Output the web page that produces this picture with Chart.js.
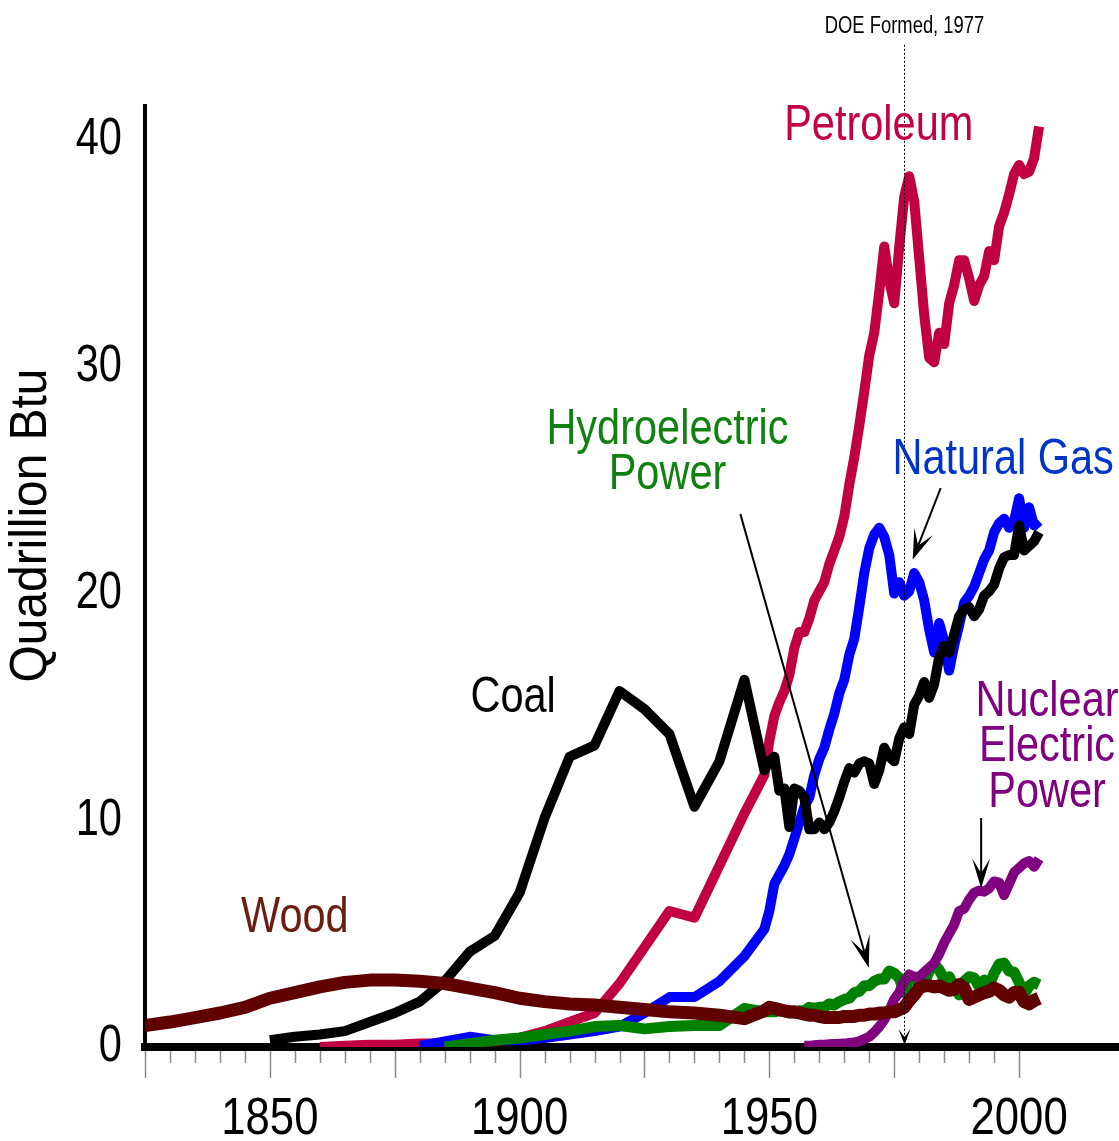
<!DOCTYPE html>
<html>
<head>
<meta charset="utf-8">
<script src="https://cdn.jsdelivr.net/npm/chart.js@4.4.1/dist/chart.umd.min.js"></script>
<style>
  body { margin: 0; background: #fff; }
  #wrap { width: 1119px; height: 1141px; }
</style>
</head>
<body>
<div id="wrap"><canvas id="chartEnergia" width="1119" height="1141"></canvas></div>
<script>
// Consumo de energia por fuente, 1825-2004 (quadrillion Btu)

const yTicks = [0, 10, 20, 30, 40];
const xLabelYears = [1850, 1900, 1950, 2000];

const annual = [];
for (let a = 1949; a <= 2004; a++) annual.push(a);

const woodYears = [1825, 1830, 1835, 1840, 1845, 1850, 1855, 1860, 1865, 1870, 1875, 1880, 1885, 1890, 1895,
  1900, 1905, 1910, 1915, 1920, 1925, 1930, 1935, 1940, 1945, ...annual];
const woodValues = [0.95, 1.1, 1.3, 1.5, 1.75, 2.15, 2.4, 2.65, 2.85, 2.95, 2.95, 2.9, 2.8, 2.6, 2.4,
  2.15, 2.0, 1.9, 1.85, 1.75, 1.65, 1.55, 1.5, 1.4, 1.25,
  1.6, 1.75, 1.7, 1.65, 1.6, 1.55, 1.55, 1.5, 1.45, 1.4, 1.4, 1.35, 1.3, 1.3, 1.3, 1.3, 1.35, 1.35, 1.35, 1.4,
  1.4, 1.45, 1.45, 1.5, 1.5, 1.55, 1.55, 1.65, 1.75, 2.05, 2.3, 2.6, 2.7, 2.7, 2.65, 2.7, 2.6, 2.5, 2.55, 2.75,
  2.6, 2.1, 2.2, 2.3, 2.4, 2.45, 2.6, 2.5, 2.3, 2.2, 2.4, 2.4, 2.0, 1.9, 2.05, 2.15];

const coalYears = [1850, 1855, 1860, 1865, 1870, 1875, 1880, 1885, 1890, 1895, 1900, 1905, 1910, 1915, 1920,
  1925, 1930, 1935, 1940, 1945, ...annual];
const coalValues = [0.3, 0.45, 0.55, 0.7, 1.1, 1.5, 2.0, 2.9, 4.2, 4.9, 6.8, 10.1, 12.8, 13.3, 15.7,
  14.9, 13.8, 10.6, 12.6, 16.2,
  12.2, 12.6, 12.8, 11.3, 11.4, 9.7, 11.4, 11.3, 11.0, 9.6, 9.6, 9.9, 9.6, 9.9, 10.4, 11.0, 11.7, 12.3, 12.1,
  12.5, 12.6, 12.5, 11.6, 12.2, 13.2, 12.8, 12.6, 13.6, 14.1, 13.8, 15.1, 15.5, 16.1, 15.4, 16.0, 17.2, 17.7,
  17.4, 18.2, 19.0, 19.3, 19.4, 19.0, 19.3, 19.9, 20.1, 20.4, 21.1, 21.6, 21.7, 21.7, 23.0, 21.9, 22.1, 22.3, 22.7];

const petroleumYears = [1860, 1865, 1870, 1875, 1880, 1885, 1890, 1895, 1900, 1905, 1910, 1915, 1920, 1925,
  1930, 1935, 1940, 1945, ...annual];
const petroleumValues = [0.0, 0.05, 0.1, 0.1, 0.15, 0.15, 0.2, 0.25, 0.4, 0.7, 1.1, 1.5, 2.8, 4.4,
  6.0, 5.7, 8.0, 10.3,
  12.0, 13.5, 14.6, 15.2, 15.7, 16.4, 17.6, 18.3, 18.3, 18.9, 19.7, 20.1, 20.5, 21.3, 21.9, 22.5, 23.4, 24.8,
  26.0, 27.4, 28.9, 30.5, 31.5, 33.3, 35.3, 33.8, 32.8, 35.3, 37.5, 38.4, 37.3, 34.8, 32.3, 30.4, 30.2, 31.5,
  31.0, 32.8, 33.6, 34.7, 34.7, 33.9, 32.9, 33.6, 34.0, 35.1, 34.7, 36.2, 36.8, 37.6, 38.5, 38.9, 38.5, 38.6,
  39.2, 40.6];

const gasYears = [1880, 1885, 1890, 1895, 1900, 1905, 1910, 1915, 1920, 1925, 1930, 1935, 1940, 1945, ...annual];
const gasValues = [0.05, 0.25, 0.45, 0.3, 0.3, 0.4, 0.55, 0.7, 0.9, 1.5, 2.2, 2.2, 2.9, 4.0,
  5.2, 6.0, 7.2, 7.6, 8.0, 8.5, 9.2, 9.9, 10.6, 11.0, 12.0, 12.7, 13.2, 14.0, 14.7, 15.6, 16.2, 17.3, 18.0,
  19.4, 20.9, 22.0, 22.6, 22.9, 22.5, 21.7, 20.0, 20.5, 19.9, 20.1, 20.9, 20.5, 19.7, 18.4, 17.4, 18.7, 17.9,
  16.6, 17.7, 18.6, 19.6, 19.9, 20.3, 20.9, 21.5, 21.9, 22.7, 23.1, 23.3, 22.9, 23.2, 24.2, 22.9, 23.8, 23.0, 23.2];

const hydroYears = [1885, 1890, 1895, 1900, 1905, 1910, 1915, 1920, 1925, 1930, 1935, 1940, 1945, ...annual];
const hydroValues = [0.0, 0.15, 0.3, 0.4, 0.55, 0.7, 0.9, 0.95, 0.8, 0.9, 0.95, 0.95, 1.7,
  1.55, 1.55, 1.55, 1.6, 1.55, 1.5, 1.5, 1.6, 1.6, 1.75, 1.7, 1.75, 1.75, 1.9, 1.85, 2.0, 2.1, 2.15, 2.4, 2.45,
  2.7, 2.7, 2.9, 3.0, 3.0, 3.35, 3.25, 3.05, 2.4, 3.0, 2.95, 2.95, 2.8, 3.35, 3.65, 3.4, 3.0, 3.1, 2.65, 2.3,
  2.9, 3.1, 3.05, 2.65, 2.95, 2.7, 3.25, 3.65, 3.7, 3.35, 3.3, 2.85, 2.3, 2.7, 2.85, 2.75];

const nuclearYears = annual.filter(a => a >= 1957);
const nuclearValues = [0.05, 0.05, 0.08, 0.1, 0.1, 0.12, 0.13, 0.14, 0.15, 0.18, 0.2, 0.25, 0.35, 0.45, 0.65,
  0.9, 1.2, 1.6, 2.1, 2.4, 2.9, 3.2, 3.1, 3.1, 3.3, 3.5, 3.7, 4.1, 4.6, 5.0, 5.4, 6.0, 6.1, 6.5, 6.8, 6.9,
  6.85, 7.0, 7.3, 7.25, 6.7, 7.2, 7.7, 7.9, 8.1, 8.2, 7.95, 8.3];

// no hay Arial Narrow: se comprime Liberation Sans en horizontal
const fuente = '"Liberation Sans", Arial, sans-serif';

function puntos(years, values) {
    return years.map((yr, i) => ({ x: yr, y: values[i] }));
}

function serie(label, years, values, color, width) {
    return {
        label: label,
        data: puntos(years, values),
        borderColor: color,
        borderWidth: width,
        pointRadius: 0,
        tension: 0,
        borderJoinStyle: 'round',
        fill: false
    };
}

function texto(ctx, str, px, py, size, k, color, align) {
    ctx.save();
    ctx.translate(px, py);
    ctx.scale(k, 1);
    ctx.font = size + 'px ' + fuente;
    ctx.fillStyle = color;
    ctx.textAlign = align || 'center';
    ctx.textBaseline = 'middle';
    ctx.fillText(str, 0, 0);
    ctx.restore();
}

// textos y flechas sobre el grafico, en coordenadas de datos
const etiquetas = [
    { text: 'Petroleum', x: 1971.9, y: 40.6, color: '#C20045' },
    { text: 'Natural Gas', x: 1996.8, y: 25.9, color: '#0034C8' },
    { text: 'Coal', x: 1898.7, y: 15.4, color: '#000000' },
    { text: 'Hydroelectric', x: 1929.6, y: 27.2, color: '#118211' },
    { text: 'Power', x: 1929.6, y: 25.2, color: '#118211' },
    { text: 'Nuclear', x: 2005.6, y: 15.2, color: '#800080' },
    { text: 'Electric', x: 2005.6, y: 13.2, color: '#800080' },
    { text: 'Power', x: 2005.6, y: 11.2, color: '#800080' },
    { text: 'Wood', x: 1855.0, y: 5.7, color: '#6B1E10' }
];

const flechas = [
    { x1: 1984.3, y1: 24.65, x2: 1978.7, y2: 21.5, head: 30, width: 20 },
    { x1: 1944.2, y1: 23.5, x2: 1969.9, y2: 3.5, head: 32, width: 20 },
    { x1: 1992.4, y1: 10.1, x2: 1992.4, y2: 7.0, head: 30, width: 18 }
];

function dibujarFlecha(ctx, x1, y1, x2, y2, head, width) {
    const ang = Math.atan2(y2 - y1, x2 - x1);
    ctx.beginPath();
    ctx.moveTo(x1, y1);
    ctx.lineTo(x2 - Math.cos(ang) * head * 0.5, y2 - Math.sin(ang) * head * 0.5);
    ctx.stroke();
    ctx.save();
    ctx.translate(x2, y2);
    ctx.rotate(ang);
    ctx.beginPath();
    ctx.moveTo(0, 0);
    ctx.lineTo(-head, -width / 2);
    ctx.lineTo(-head * 0.5, 0);
    ctx.lineTo(-head, width / 2);
    ctx.closePath();
    ctx.fill();
    ctx.restore();
}

const anotaciones = {
    id: 'anotaciones',
    afterDraw(chart) {
        const ctx = chart.ctx;
        const x = chart.scales.x;
        const y = chart.scales.y;
        const base = y.getPixelForValue(0);

        // marcas del eje x (cada 5 anos, largas cada 25)
        ctx.save();
        ctx.strokeStyle = '#8a8a8a';
        ctx.lineWidth = 1.5;
        for (let yr = 1825; yr <= 2000; yr += 5) {
            const px = Math.round(x.getPixelForValue(yr)) + 0.5;
            ctx.beginPath();
            ctx.moveTo(px, base + 4);
            ctx.lineTo(px, base + (yr % 25 === 0 ? 31 : 16));
            ctx.stroke();
        }
        ctx.restore();

        // etiquetas de los ejes
        xLabelYears.forEach(yr => {
            texto(ctx, String(yr), x.getPixelForValue(yr), 1120, 52, 0.84, '#000');
        });
        yTicks.forEach(v => {
            texto(ctx, String(v), 122, y.getPixelForValue(v), 52, 0.8, '#000', 'right');
        });

        // titulo del eje y
        ctx.save();
        ctx.translate(32, y.getPixelForValue(23));
        ctx.rotate(-Math.PI / 2);
        texto(ctx, 'Quadrillion Btu', 0, 0, 52, 0.92, '#000');
        ctx.restore();

        // linea DOE 1977
        const doeX = Math.round(x.getPixelForValue(1977)) + 0.5;
        ctx.save();
        ctx.strokeStyle = '#000';
        ctx.lineWidth = 1;
        ctx.setLineDash([2, 2]);
        ctx.beginPath();
        ctx.moveTo(doeX, y.getPixelForValue(44.2));
        ctx.lineTo(doeX, base - 4);
        ctx.stroke();
        ctx.setLineDash([]);
        ctx.fillStyle = '#000';
        ctx.beginPath();
        ctx.moveTo(doeX, base - 2);
        ctx.lineTo(doeX - 6, base - 18);
        ctx.lineTo(doeX, base - 10);
        ctx.lineTo(doeX + 6, base - 18);
        ctx.closePath();
        ctx.fill();
        ctx.restore();
        texto(ctx, 'DOE Formed, 1977', doeX, y.getPixelForValue(45.0), 23, 0.8, '#000');

        // flechas
        ctx.save();
        ctx.strokeStyle = '#000';
        ctx.fillStyle = '#000';
        ctx.lineWidth = 2;
        flechas.forEach(f => {
            dibujarFlecha(ctx, x.getPixelForValue(f.x1), y.getPixelForValue(f.y1),
                x.getPixelForValue(f.x2), y.getPixelForValue(f.y2), f.head, f.width);
        });
        ctx.restore();

        // nombres de las series
        etiquetas.forEach(e => {
            texto(ctx, e.text, x.getPixelForValue(e.x), y.getPixelForValue(e.y), 50, 0.83, e.color);
        });
    }
};

document.addEventListener('DOMContentLoaded', () => {
    const ctx = document.getElementById('chartEnergia');

    new Chart(ctx, {
        type: 'line',
        data: {
            datasets: [
                serie('Wood', woodYears, woodValues, '#600000', 13),
                serie('Nuclear Electric Power', nuclearYears, nuclearValues, '#800080', 10),
                serie('Hydroelectric Power', hydroYears, hydroValues, '#008000', 11),
                serie('Coal', coalYears, coalValues, '#000000', 10),
                serie('Natural Gas', gasYears, gasValues, '#0000FF', 10),
                serie('Petroleum', petroleumYears, petroleumValues, '#C00040', 10)
            ]
        },
        options: {
            responsive: false,
            animation: false,
            layout: { padding: { top: 106, left: 0, right: 0, bottom: 0 } },
            plugins: {
                legend: { display: false },
                tooltip: { enabled: false }
            },
            scales: {
                x: {
                    type: 'linear',
                    min: 1825,
                    max: 2020,
                    afterFit: scale => { scale.height = 94; },
                    grid: { display: false, drawTicks: false },
                    border: { display: true, color: '#000', width: 8 },
                    ticks: { display: false, stepSize: 5 }
                },
                y: {
                    min: 0,
                    max: 41.5,
                    afterFit: scale => { scale.width = 145; },
                    afterBuildTicks: scale => {
                        scale.ticks = yTicks.map(v => ({ value: v }));
                    },
                    grid: { display: false, drawTicks: false },
                    border: { display: true, color: '#000', width: 4 },
                    ticks: { display: false }
                }
            }
        },
        plugins: [anotaciones]
    });
});
</script>
</body>
</html>
